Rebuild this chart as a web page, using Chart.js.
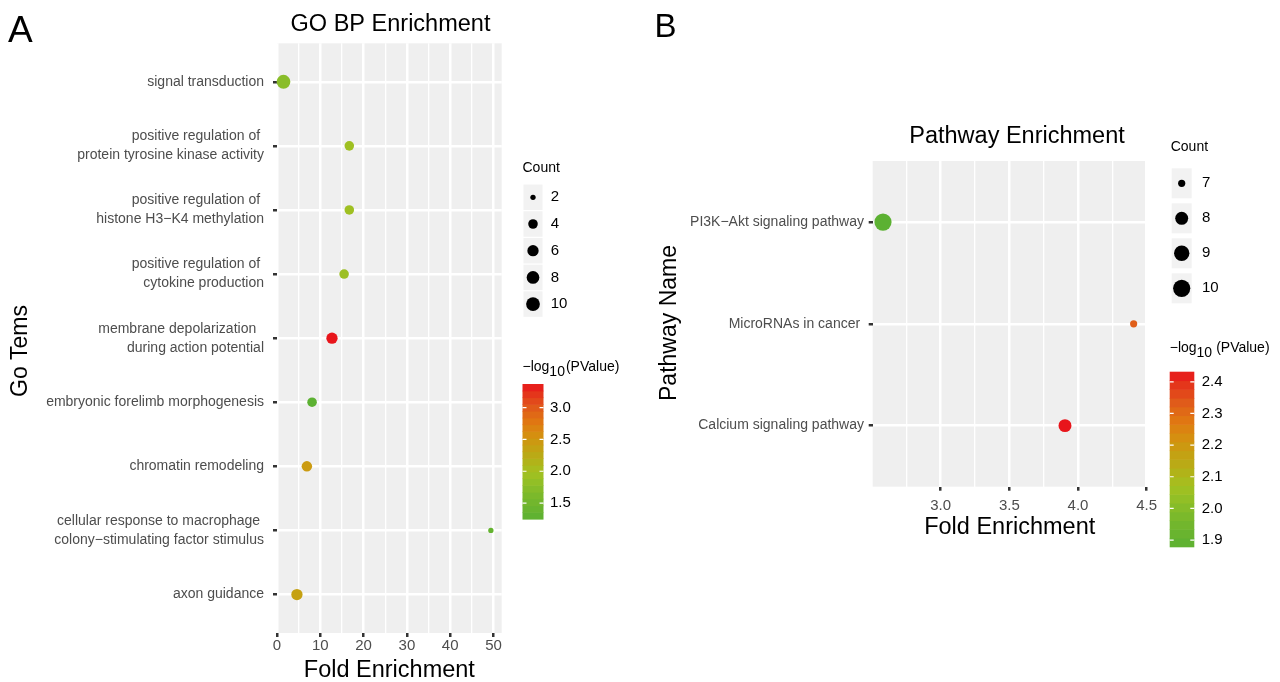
<!DOCTYPE html>
<html>
<head>
<meta charset="utf-8">
<script src="https://cdn.jsdelivr.net/npm/chart.js@4.4.1/dist/chart.umd.min.js"></script>
<style>
    body { margin: 0; background: #fff; width: 1280px; height: 682px; overflow: hidden; position: relative; }
    .panel { position: absolute; top: 0; width: 640px; height: 682px; }
    canvas { display: block; }
</style>
</head>
<body>
<div class="panel" style="left:0"><canvas id="goChart" width="640" height="682"></canvas></div>
<div class="panel" style="left:640px"><canvas id="pathChart" width="640" height="682"></canvas></div>

<script>
// ===============================
// DATA - panel A (GO BP)
// ===============================
const goTerms = [
    "signal transduction",
    ["positive regulation of ", "protein tyrosine kinase activity"],
    ["positive regulation of ", "histone H3\u2212K4 methylation"],
    ["positive regulation of ", "cytokine production"],
    ["membrane depolarization  ", "during action potential"],
    "embryonic forelimb morphogenesis",
    "chromatin remodeling",
    ["cellular response to macrophage ", "colony\u2212stimulating factor stimulus"],
    "axon guidance"
];
const goFold = [1.5, 16.7, 16.7, 15.5, 12.7, 8.1, 6.9, 49.4, 4.6];
const goCount = [10, 4, 4, 4, 6, 4, 5, 2, 6];
const goLogP = [1.75, 1.95, 1.95, 1.92, 3.37, 1.25, 2.45, 1.35, 2.38];
const goXTicks = [0, 10, 20, 30, 40, 50];
const goXMinor = [5, 15, 25, 35, 45];
const goCountBreaks = [2, 4, 6, 8, 10];
const goColorTicks = [1.5, 2.0, 2.5, 3.0];

// ===============================
// DATA - panel B (pathways)
// ===============================
const pathNames = ["PI3K\u2212Akt signaling pathway", "MicroRNAs in cancer ", "Calcium signaling pathway"];
const pathFold = [2.58, 4.405, 3.905];
const pathCount = [10, 7, 8];
const pathLogP = [1.879, 2.33, 2.432];
const pathXTicks = [3.0, 3.5, 4.0, 4.5];
const pathXMinor = [2.75, 3.25, 3.75, 4.25];
const pathCountBreaks = [7, 8, 9, 10];
const pathColorTicks = [1.9, 2.0, 2.1, 2.2, 2.3, 2.4];

// ---- look ----
const FONT = "'Liberation Sans', Arial, sans-serif";
const panelBg = "#EFEFEF";
const tickGrey = "#4D4D4D";
Chart.defaults.font.family = FONT;

// green -> yellow -> orange -> red, like the colour bar
const palette = [
    [0, "#5CB132"], [0.16, "#78B82C"], [0.25, "#8CBE28"], [0.35, "#A4C020"],
    [0.44, "#B4B018"], [0.54, "#C6A012"], [0.63, "#D68E10"], [0.73, "#E07512"],
    [0.83, "#E05A1A"], [0.92, "#E4381B"], [1, "#E8151B"]
];

function hexToRgb(h) {
    return [1, 3, 5].map(i => parseInt(h.substr(i, 2), 16));
}

function pvalColor(v, lo, hi) {
    const t = Math.max(0, Math.min(1, (v - lo) / (hi - lo)));
    for (let i = 1; i < palette.length; i++) {
        if (t <= palette[i][0]) {
            const [t0, c0] = palette[i - 1];
            const [t1, c1] = palette[i];
            const f = (t - t0) / (t1 - t0);
            const a = hexToRgb(c0), b = hexToRgb(c1);
            const rgb = a.map((x, k) => Math.round(x + (b[k] - x) * f));
            return `rgb(${rgb.join(",")})`;
        }
    }
    return palette[palette.length - 1][1];
}

// ggplot-ish area scale: size 1..6 over the count range
function sizeOf(c, lo, hi) {
    return 1 + 5 * Math.sqrt((c - lo) / (hi - lo));
}

const goLo = Math.min(...goLogP), goHi = Math.max(...goLogP);
const pathLo = Math.min(...pathLogP), pathHi = Math.max(...pathLogP);
const radiusA = c => 1.8 + 0.85 * sizeOf(c, Math.min(...goCount), Math.max(...goCount));
const radiusB = c => 2.6 + 1.0 * sizeOf(c, Math.min(...pathCount), Math.max(...pathCount));

// ===============================
// LEGEND DRAWING
// ===============================
function drawCountLegend(ctx, L, breaks, radius) {
    ctx.fillStyle = "#000";
    ctx.font = `14px ${FONT}`;
    ctx.textAlign = "left";
    ctx.textBaseline = "alphabetic";
    ctx.fillText("Count", L.x, L.titleY);

    breaks.forEach((b, i) => {
        const cy = L.y0 + i * L.step;
        ctx.fillStyle = "#F2F2F2";
        ctx.fillRect(L.x + 1, cy - L.keyH / 2, L.keyW, L.keyH);
        ctx.fillStyle = "#000";
        ctx.beginPath();
        ctx.arc(L.x + 1 + L.keyW / 2, cy, radius(b), 0, Math.PI * 2);
        ctx.fill();
        ctx.font = `15px ${FONT}`;
        ctx.textBaseline = "middle";
        ctx.fillText(String(b), L.labelX, cy);
    });
}

function drawColorbar(ctx, C, lo, hi, ticks) {
    // title  -log10(PValue)
    ctx.fillStyle = "#000";
    ctx.textAlign = "left";
    ctx.textBaseline = "alphabetic";
    ctx.font = `14px ${FONT}`;
    ctx.fillText("\u2212log", C.x, C.titleY);
    let x = C.x + ctx.measureText("\u2212log").width;
    ctx.fillText("10", x, C.titleY + 5);
    x += ctx.measureText("10").width + C.gap;
    ctx.fillText("(PValue)", x, C.titleY);

    // banded bar
    const nb = 20;
    const h = (C.bottom - C.top) / nb;
    for (let i = 0; i < nb; i++) {
        const v = lo + (i + 0.5) * (hi - lo) / nb;
        ctx.fillStyle = pvalColor(v, lo, hi);
        ctx.fillRect(C.x, C.bottom - (i + 1) * h, C.w, h + 0.6);
    }

    ticks.forEach(t => {
        const y = C.bottom - (t - lo) / (hi - lo) * (C.bottom - C.top);
        ctx.strokeStyle = "#fff";
        ctx.lineWidth = 1.2;
        ctx.beginPath();
        ctx.moveTo(C.x, y); ctx.lineTo(C.x + 4, y);
        ctx.moveTo(C.x + C.w - 4, y); ctx.lineTo(C.x + C.w, y);
        ctx.stroke();
        ctx.fillStyle = "#000";
        ctx.font = `15px ${FONT}`;
        ctx.textBaseline = "middle";
        ctx.fillText(t.toFixed(1), C.labelX, y);
    });
}

// grey panel + titles + legends
function decorPlugin(cfg) {
    return {
        id: "decor",
        beforeDraw(chart) {
            const { ctx, chartArea: a } = chart;
            ctx.save();
            ctx.fillStyle = panelBg;
            ctx.fillRect(a.left, a.top, a.right - a.left, a.bottom - a.top);
            ctx.restore();
        },
        afterDraw(chart) {
            const ctx = chart.ctx;
            ctx.save();
            ctx.fillStyle = "#000";
            ctx.textBaseline = "alphabetic";
            ctx.textAlign = "left";
            ctx.font = `${cfg.letterSize}px ${FONT}`;
            ctx.fillText(cfg.letter, cfg.letterX, cfg.letterY);
            ctx.textAlign = "center";
            ctx.font = `23.5px ${FONT}`;
            ctx.fillText(cfg.title, cfg.titleX, cfg.titleY);

            // y axis title drawn by hand (sits a bit below the panel centre)
            ctx.save();
            ctx.translate(cfg.yTitleX, cfg.yTitleY);
            ctx.rotate(-Math.PI / 2);
            ctx.font = `23px ${FONT}`;
            ctx.textBaseline = "middle";
            ctx.fillText(cfg.yTitle, 0, 0);
            ctx.restore();

            drawCountLegend(ctx, cfg.count, cfg.breaks, cfg.radius);
            drawColorbar(ctx, cfg.bar, cfg.lo, cfg.hi, cfg.barTicks);
            ctx.restore();
        }
    };
}

// ===============================
// CHART BUILDER
// ===============================
function makePanel(canvasId, p) {
    const isMajor = v => p.xTicks.some(t => Math.abs(t - v) < 1e-9);

    new Chart(document.getElementById(canvasId), {
        type: "bubble",
        data: {
            datasets: [{
                data: p.fold.map((x, i) => ({ x: x, y: i + 1, r: p.radius(p.count[i]) })),
                backgroundColor: p.logP.map(v => pvalColor(v, p.lo, p.hi)),
                borderWidth: 0,
                clip: false
            }]
        },
        options: {
            responsive: false,
            animation: false,
            devicePixelRatio: 1,
            layout: { padding: p.padding },
            plugins: { legend: { display: false }, tooltip: { enabled: false } },
            scales: {
                x: {
                    type: "linear",
                    min: p.xMin,
                    max: p.xMax,
                    afterBuildTicks: s => {
                        s.ticks = p.xTicks.concat(p.xMinor).sort((a, b) => a - b).map(v => ({ value: v }));
                    },
                    afterFit: s => { s.height = p.xAxisH; },
                    border: { display: false },
                    grid: {
                        color: "#fff",
                        lineWidth: c => (c.tick && isMajor(c.tick.value)) ? 2.5 : 1.3,
                        tickColor: c => (c.tick && isMajor(c.tick.value)) ? "#333" : "rgba(0,0,0,0)",
                        tickLength: 4,
                        tickWidth: 2.5
                    },
                    ticks: {
                        autoSkip: false,
                        maxRotation: 0,
                        padding: p.xTickPad,
                        color: tickGrey,
                        font: { size: 15 },
                        callback: v => isMajor(v) ? p.fmt(v) : ""
                    },
                    title: {
                        display: true,
                        text: "Fold Enrichment",
                        color: "#000",
                        font: { size: 23.5, lineHeight: 1 },
                        padding: { top: 0, bottom: p.xTitlePad }
                    }
                },
                y: {
                    type: "linear",
                    reverse: true,
                    min: 0.4,
                    max: p.labels.length + 0.6,
                    afterBuildTicks: s => {
                        s.ticks = p.labels.map((_, i) => ({ value: i + 1 }));
                    },
                    afterFit: s => { s.width = p.yAxisW; },
                    border: { display: false },
                    grid: {
                        color: "#fff",
                        lineWidth: 2.5,
                        tickColor: "#333",
                        tickLength: 4,
                        tickWidth: 2.5
                    },
                    ticks: {
                        autoSkip: false,
                        padding: p.yTickPad,
                        color: tickGrey,
                        font: { size: 14, lineHeight: 19 / 14 },
                        callback: v => p.labels[v - 1]
                    },
                    title: { display: false }
                }
            }
        },
        plugins: [decorPlugin(p.decor)]
    });
}

// ---- panel A ----
makePanel("goChart", {
    labels: goTerms, fold: goFold, count: goCount, logP: goLogP,
    lo: goLo, hi: goHi, radius: radiusA,
    xMin: 0, xMax: 51.9, xTicks: goXTicks, xMinor: goXMinor, fmt: v => String(v),
    padding: { top: 43.3, right: 138.3, bottom: 0, left: 0 },
    xAxisH: 49, yAxisW: 277, xTickPad: 0, yTickPad: 9, xTitlePad: 0,
    decor: {
        letter: "A", letterSize: 37, letterX: 8, letterY: 41.7,
        title: "GO BP Enrichment", titleX: 390.5, titleY: 30.7,
        yTitle: "Go Tems", yTitleX: 21, yTitleY: 351,
        breaks: goCountBreaks, radius: radiusA,
        count: { x: 522.5, titleY: 171.7, y0: 197.3, step: 26.7, keyW: 19, keyH: 25.5, labelX: 550.7 },
        lo: goLo, hi: goHi, barTicks: goColorTicks,
        bar: { x: 522.5, w: 21, top: 384, bottom: 519, titleY: 371, gap: 1, labelX: 550 }
    }
});

// ---- panel B ----
makePanel("pathChart", {
    labels: pathNames, fold: pathFold, count: pathCount, logP: pathLogP,
    lo: pathLo, hi: pathHi, radius: radiusB,
    xMin: 2.505, xMax: 4.5, xTicks: pathXTicks, xMinor: pathXMinor, fmt: v => v.toFixed(1),
    padding: { top: 161, right: 133.3, bottom: 142.25, left: 0 },
    xAxisH: 53.05, yAxisW: 232.7, xTickPad: 6.5, yTickPad: 4.7, xTitlePad: 0,
    decor: {
        letter: "B", letterSize: 33, letterX: 14.5, letterY: 36.7,
        title: "Pathway Enrichment", titleX: 377, titleY: 143.3,
        yTitle: "Pathway Name", yTitleX: 30, yTitleY: 323,
        breaks: pathCountBreaks, radius: radiusB,
        count: { x: 530.7, titleY: 150.7, y0: 183.3, step: 35, keyW: 20, keyH: 30, labelX: 562 },
        lo: pathLo, hi: pathHi, barTicks: pathColorTicks,
        bar: { x: 529.7, w: 24.6, top: 371.7, bottom: 546.7, titleY: 351.7, gap: 4, labelX: 561.7 }
    }
});
</script>
</body>
</html>
